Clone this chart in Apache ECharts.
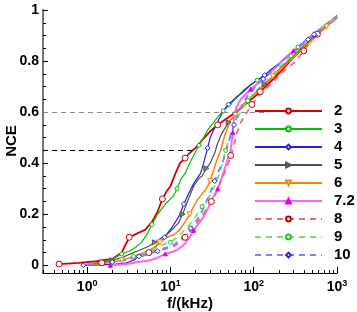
<!DOCTYPE html>
<html><head><meta charset="utf-8">
<script src="https://cdn.jsdelivr.net/npm/echarts@6/dist/echarts.min.js"></script>
<style>html,body{margin:0;padding:0;background:#fff}#c{width:357px;height:312px}</style>
</head><body><div id="c"></div>
<script>
// ---- data (f in kHz, NCE) ----
const seriesNames = ['2', '3', '4', '5', '6', '7.2', '8', '9', '10'];

const f2 = [0.46, 0.8, 1.3, 2.0, 2.6, 3.2, 4.0, 5.0, 6.0, 7.0, 8.0, 9.0, 10, 11.5, 13, 15, 17, 20, 24, 30, 37, 45, 55, 70, 90, 120, 160, 220, 300, 420, 580, 800, 1000];
const y2 = [0.005, 0.010, 0.016, 0.025, 0.05, 0.11, 0.125, 0.14, 0.17, 0.21, 0.26, 0.29, 0.31, 0.36, 0.40, 0.42, 0.44, 0.46, 0.49, 0.525, 0.55, 0.57, 0.59, 0.615, 0.645, 0.68, 0.72, 0.765, 0.815, 0.86, 0.905, 0.945, 0.97];

const f3 = [1.0, 1.5, 2.0, 2.6, 3.2, 3.8, 4.5, 5.2, 6.0, 7.0, 8.0, 9.0, 10.8, 12, 13.5, 15, 17, 19, 22, 25, 28, 33, 38, 43, 50, 60, 75, 90, 110, 135, 160, 200, 260, 340, 450, 600, 800, 1000];
const y3 = [0.005, 0.012, 0.025, 0.045, 0.055, 0.07, 0.09, 0.12, 0.16, 0.20, 0.225, 0.245, 0.27, 0.30, 0.34, 0.36, 0.40, 0.43, 0.47, 0.50, 0.53, 0.56, 0.585, 0.605, 0.625, 0.65, 0.685, 0.705, 0.725, 0.745, 0.765, 0.79, 0.825, 0.855, 0.89, 0.92, 0.95, 0.98];

const f4 = [0.9, 1.5, 2.2, 3.0, 3.6, 4.2, 4.7, 5.5, 6.5, 7.5, 8.5, 9.2, 10.5, 12, 13, 14.5, 16.5, 19, 23, 25, 28, 30, 33, 38, 43, 50, 60, 75, 90, 111, 135, 160, 200, 260, 340, 450, 600, 800, 1000];
const y4 = [0.0, 0.002, 0.005, 0.01, 0.02, 0.035, 0.047, 0.05, 0.07, 0.09, 0.11, 0.125, 0.15, 0.18, 0.20, 0.24, 0.28, 0.32, 0.36, 0.40, 0.46, 0.50, 0.53, 0.57, 0.605, 0.63, 0.655, 0.68, 0.705, 0.725, 0.745, 0.765, 0.79, 0.82, 0.85, 0.885, 0.915, 0.945, 0.975];

const f5 = [1.0, 1.5, 2.0, 2.6, 3.3, 4.3, 5.5, 6.5, 7.6, 9.0, 10.5, 12.4, 14, 16, 19, 22, 24, 27, 30, 34, 37, 42, 50, 60, 75, 90, 110, 135, 170, 220, 300, 400, 550, 750, 1000];
const y5 = [0.003, 0.01, 0.02, 0.03, 0.045, 0.06, 0.075, 0.09, 0.105, 0.12, 0.14, 0.165, 0.20, 0.25, 0.31, 0.34, 0.35, 0.38, 0.40, 0.44, 0.48, 0.52, 0.56, 0.59, 0.63, 0.655, 0.68, 0.71, 0.74, 0.78, 0.82, 0.86, 0.90, 0.94, 0.975];

const f6 = [1.0, 1.5, 2.0, 2.6, 3.3, 4.3, 5.2, 6.2, 7.5, 9, 11, 13, 15, 17, 19, 21, 24, 27, 30, 35, 40, 45, 53, 60, 75, 90, 110, 135, 170, 220, 300, 400, 550, 750, 1000];
const y6 = [0.002, 0.006, 0.012, 0.02, 0.03, 0.045, 0.055, 0.067, 0.09, 0.11, 0.12, 0.14, 0.17, 0.20, 0.23, 0.255, 0.28, 0.30, 0.33, 0.40, 0.45, 0.51, 0.57, 0.59, 0.63, 0.655, 0.68, 0.705, 0.74, 0.775, 0.815, 0.855, 0.895, 0.935, 0.97];

const f72 = [1.9, 3, 4, 5.7, 7, 8.7, 10, 12, 14.3, 17, 19, 22, 25, 29, 33, 37, 40, 44, 47, 53, 56, 58, 62, 70, 80, 92, 110, 135, 170, 220, 300, 400, 550, 750, 1000];
const y72 = [0.0, 0.005, 0.012, 0.02, 0.03, 0.045, 0.05, 0.06, 0.078, 0.11, 0.137, 0.165, 0.19, 0.23, 0.27, 0.30, 0.33, 0.37, 0.40, 0.45, 0.52, 0.58, 0.62, 0.65, 0.67, 0.69, 0.71, 0.735, 0.765, 0.80, 0.84, 0.875, 0.91, 0.945, 0.975];

const f8 = [1.0, 1.5, 2.0, 2.8, 3.6, 4.5, 5.5, 7, 9, 11, 13, 15, 17, 20, 23, 27, 31, 35, 38, 43, 48, 53, 57, 63, 70, 80, 95, 120, 160, 220, 320, 400, 490, 650, 800, 1000];
const y8 = [0.005, 0.01, 0.015, 0.022, 0.03, 0.04, 0.05, 0.06, 0.07, 0.075, 0.09, 0.11, 0.13, 0.16, 0.185, 0.22, 0.25, 0.28, 0.31, 0.35, 0.385, 0.43, 0.46, 0.52, 0.56, 0.59, 0.63, 0.67, 0.71, 0.755, 0.80, 0.84, 0.88, 0.92, 0.945, 0.97];

const f9 = [1.0, 1.5, 2.0, 2.8, 3.6, 4.5, 5.5, 7, 8.7, 10, 12, 14, 17, 20, 24, 30, 34, 38, 42, 46, 50, 55, 62, 72, 85, 100, 125, 160, 210, 280, 380, 520, 700, 1000];
const y9 = [0.005, 0.01, 0.016, 0.025, 0.035, 0.045, 0.055, 0.07, 0.085, 0.09, 0.11, 0.13, 0.16, 0.19, 0.23, 0.275, 0.31, 0.35, 0.40, 0.45, 0.49, 0.53, 0.57, 0.61, 0.645, 0.675, 0.705, 0.74, 0.78, 0.82, 0.86, 0.90, 0.94, 0.975];

const f10 = [1.0, 1.5, 2.0, 2.8, 3.6, 4.5, 5.5, 7, 9, 11, 13, 15, 17.5, 20, 23, 27, 30, 34, 38, 42, 47, 52, 58, 66, 75, 88, 105, 130, 165, 215, 290, 390, 530, 720, 1000];
const y10 = [0.003, 0.008, 0.013, 0.02, 0.028, 0.035, 0.045, 0.055, 0.065, 0.08, 0.10, 0.12, 0.145, 0.17, 0.20, 0.25, 0.285, 0.33, 0.37, 0.40, 0.45, 0.50, 0.55, 0.60, 0.64, 0.67, 0.70, 0.73, 0.76, 0.795, 0.835, 0.87, 0.905, 0.94, 0.975];

const xTickExps = [0, 1, 2, 3];
const yTickValues = [0, 0.2, 0.4, 0.6, 0.8, 1];
const yMinorValues = [0.05, 0.1, 0.15, 0.25, 0.3, 0.35, 0.45, 0.5, 0.55, 0.65, 0.7, 0.75, 0.85, 0.9, 0.95];
const refLevels = [0.6, 0.45];
const refEndF = [150, 20];

// ---- styles ----
const FONT = 'Liberation Sans, Arial, Helvetica, sans-serif';
const xMin = 0.295, xMax = 1000;
const styles = [
  {color: '#d80000', width: 1.8, type: 'solid',  symbol: 'circle',   size: 6, fill: '#fff', stroke: '#d80000'},
  {color: '#00c000', width: 1.2, type: 'solid',  symbol: 'circle',   size: 4, fill: '#fff', stroke: '#00c000'},
  {color: '#2020e8', width: 1.2, type: 'solid',  symbol: 'diamond',  size: 5, fill: '#fff', stroke: '#2020e8'},
  {color: '#505050', width: 1.2, type: 'solid',  symbol: 'triangle', size: 5, fill: '#888', stroke: '#505050', rotate: -90},
  {color: '#ff8000', width: 1.5, type: 'solid',  symbol: 'triangle', size: 5, fill: '#fff', stroke: '#ff8000', rotate: 180},
  {color: '#ff60ff', width: 2,   type: 'solid',  symbol: 'triangle', size: 4, fill: '#e000e0', stroke: '#e000e0'},
  {color: '#e87070', width: 1.8, type: [6, 5],   symbol: 'circle',   size: 6, fill: '#fff', stroke: '#c00000'},
  {color: '#70e070', width: 1.8, type: [6, 5],   symbol: 'circle',   size: 4, fill: '#fff', stroke: '#20c020'},
  {color: '#8080ff', width: 1.8, type: [6, 5],   symbol: 'diamond',  size: 5, fill: '#fff', stroke: '#2020ff'}
];
const fs = [f2, f3, f4, f5, f6, f72, f8, f9, f10];
const ys = [y2, y3, y4, y5, y6, y72, y8, y9, y10];
const markEvery = 5;
const markOffset = [0, 2, 0, 3, 2, 0, 4, 1, 3];

const series = seriesNames.map((name, k) => {
  const st = styles[k];
  const data = fs[k].map((f, i) => {
    const item = {value: [f, ys[k][i]]};
    if ((i + markOffset[k]) % markEvery !== 0) item.symbol = 'none';
    return item;
  });
  return {
    name: name,
    type: 'line',
    xAxisIndex: 0, yAxisIndex: 0,
    data: data,
    symbol: st.symbol,
    symbolSize: st.size,
    symbolRotate: st.rotate || 0,
    showAllSymbol: true,
    lineStyle: {color: st.color, width: st.width, type: st.type},
    itemStyle: {color: st.fill, borderColor: st.stroke, borderWidth: 1},
    z: 3,
    animation: false
  };
});

// reference lines
series.push({
  name: 'ref', type: 'line', xAxisIndex: 0, yAxisIndex: 0, data: [], silent: true, z: 1,
  markLine: {
    silent: true, symbol: ['none', 'none'], label: {show: false}, animation: false,
    data: refLevels.map((v, i) => [
      {coord: [xMin, v], lineStyle: {color: i === 0 ? '#888' : '#000', width: 1, type: [5, 4]}},
      {coord: [refEndF[i], v]}
    ])
  }
});

const lxMin = Math.log10(xMin), lxMax = Math.log10(xMax);
const minorX = [];
for (let d = -1; d <= 2; d++) for (let m = 2; m <= 9; m++) {
  const v = d + Math.log10(m);
  if (v > lxMin && v < lxMax) minorX.push(v);
}

const chart = echarts.init(document.getElementById('c'), null, {renderer: 'canvas'});
chart.setOption({
  animation: false,
  backgroundColor: '#fff',
  grid: {left: 43, right: 20, top: 10, bottom: 39, containLabel: false, outerBoundsMode: 'none'},
  legend: {
    data: seriesNames, orient: 'vertical', left: 249, top: 98,
    itemWidth: 67, itemHeight: 6, itemGap: 2,
    textStyle: {fontFamily: FONT, fontWeight: 'bold', fontSize: 15, lineHeight: 16, color: '#000', padding: [0, 0, 0, 7]},
    selectedMode: false
  },
  graphic: [{
    type: 'text', x: 4, y: 141, rotation: Math.PI / 2, silent: true,
    style: {text: 'NCE', fontFamily: FONT, fontWeight: 'bold', fontSize: 15, fill: '#000', align: 'center', verticalAlign: 'top'}
  }],
  xAxis: [
    {type: 'log', logBase: 10, min: xMin, max: xMax,
     axisLine: {show: true, onZero: false, lineStyle: {color: '#000', width: 1}},
     axisTick: {show: false}, axisLabel: {show: false}, splitLine: {show: false}, minorTick: {show: false},
     name: 'f/(kHz)', nameLocation: 'middle', nameGap: 23,
     nameTextStyle: {fontFamily: FONT, fontWeight: 'bold', fontSize: 15, color: '#000'}},
    {type: 'value', min: lxMin, max: lxMax, position: 'bottom',
     axisLine: {show: false, onZero: false}, splitLine: {show: false},
     axisTick: {show: true, inside: true, length: 6, customValues: xTickExps, lineStyle: {color: '#000'}},
     axisLabel: {show: true, margin: 6, customValues: xTickExps,
       formatter: v => '10{s|' + Math.round(v) + '}',
       fontFamily: FONT, fontWeight: 'bold', fontSize: 14, color: '#000',
       rich: {s: {fontFamily: FONT, fontWeight: 'bold', fontSize: 9, verticalAlign: 'top', padding: [0, 0, 8, 0], color: '#000'}}}},
    {type: 'value', min: lxMin, max: lxMax, position: 'bottom',
     axisLine: {show: false, onZero: false}, splitLine: {show: false}, axisLabel: {show: false},
     axisTick: {show: true, inside: true, length: 3, customValues: minorX, lineStyle: {color: '#000'}}}
  ],
  yAxis: [
    {type: 'value', min: -0.03, max: 1, position: 'left',
     axisLine: {show: true, onZero: false, lineStyle: {color: '#777', width: 2}},
     splitLine: {show: false},
     axisTick: {show: true, inside: true, length: 5, customValues: yTickValues, lineStyle: {color: '#000'}},
     axisLabel: {show: true, margin: 4, customValues: yTickValues,
       formatter: v => (v === 0 ? '0' : (v === 1 ? '1' : v.toFixed(1))),
       fontFamily: FONT, fontWeight: 'bold', fontSize: 14, color: '#000'}},
    {type: 'value', min: -0.03, max: 1, position: 'left',
     axisLine: {show: false, onZero: false}, splitLine: {show: false}, axisLabel: {show: false},
     axisTick: {show: true, inside: true, length: 3, customValues: yMinorValues, lineStyle: {color: '#000'}}}
  ],
  series: series
});
</script>
</body></html>
